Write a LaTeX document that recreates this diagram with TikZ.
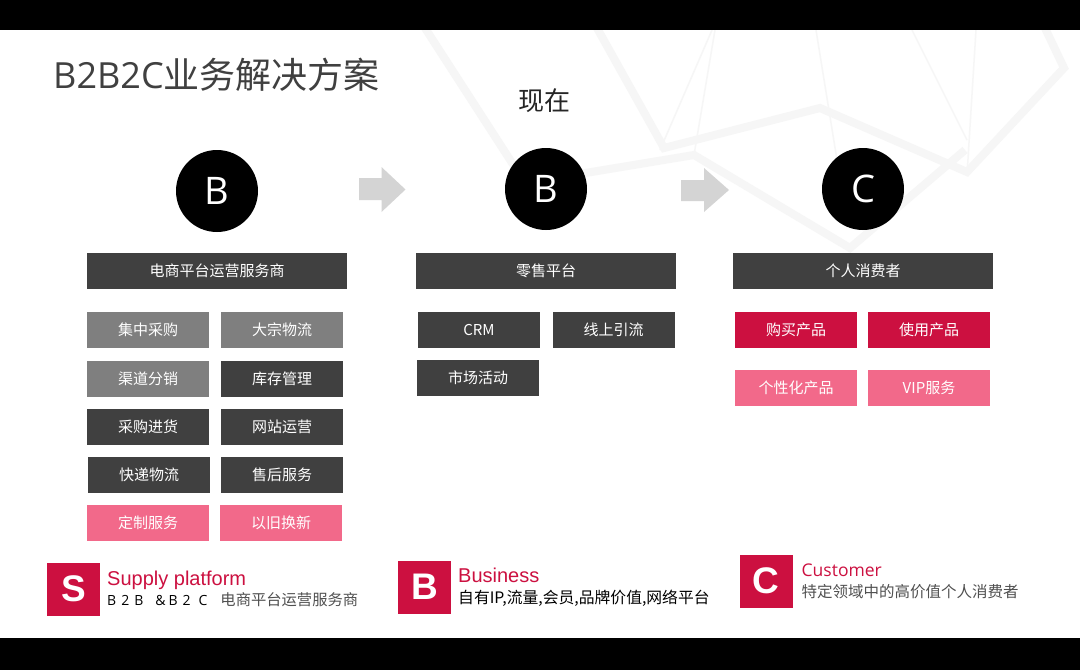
\documentclass[tikz,border=0pt]{standalone}
\usepackage{fontspec}
\setmainfont{Open Sans}
\newfontfamily\cjk{Noto Sans CJK SC}
\newfontfamily\arialf{Liberation Sans}
\newfontfamily\opensans{Open Sans}
\definecolor{darkbox}{HTML}{404040}
\definecolor{graybox}{HTML}{7F7F7F}
\definecolor{crimson}{HTML}{CC1040}
\definecolor{pinkbox}{HTML}{F2698A}
\definecolor{arrowgray}{HTML}{D4D4D4}
\definecolor{titlegray}{HTML}{404040}
\definecolor{subgray}{HTML}{505050}
\definecolor{bgl}{HTML}{F6F6F6}
\tikzset{
  bgline/.style={line width=8pt, draw=bgl, line join=miter},
  bgthin/.style={line width=1.5pt, draw=bgl},
  bar/.style={fill=darkbox, minimum width=260pt, minimum height=36pt, inner sep=0pt, text=white, font=\cjk\fontsize{15}{15}\selectfont},
  item/.style={minimum width=122pt, minimum height=36pt, inner sep=0pt, text=white, font=\cjk\fontsize{15}{15}\selectfont},
  darkitem/.style={item, fill=darkbox},
  grayitem/.style={item, fill=graybox},
  redItem/.style={item, fill=crimson},
  pinkitem/.style={item, fill=pinkbox},
  circ/.style={circle, fill=black, minimum size=82pt, inner sep=0pt, text=white, font=\opensans\fontsize{38}{38}\selectfont},
  sq/.style={fill=crimson, minimum size=53pt, inner sep=0pt, text=white, font=\arialf\bfseries\fontsize{37}{37}\selectfont},
  blockarrow/.style={fill=arrowgray}
}
\begin{document}
\begin{tikzpicture}[x=1pt,y=-1pt]
\useasboundingbox (0,0) rectangle (1080,670);
\fill[white] (0,0) rectangle (1080,670);
% faint background geometry
\draw[bgline] (425,28) -- (525,183) -- (694,155) -- (850,248) -- (965,150);
\draw[bgline] (597,28) -- (664,148) -- (820,108) -- (967,172) -- (1064,68) -- (1045,28);
\draw[bgthin] (715,30) -- (694,155);
\draw[bgthin] (816,30) -- (837,160);
\draw[bgthin] (912,30) -- (967,140);
\draw[bgthin] (976,30) -- (967,175);
\draw[bgthin] (712,30) -- (660,150);
% top and bottom bars
\fill[black] (0,0) rectangle (1080,30);
\fill[black] (0,638) rectangle (1080,670);
% title
\node[anchor=base west, inner sep=0pt, text=titlegray] (title) at (53,88)
  {{\opensans\fontsize{36}{36}\selectfont B2B2C}{\cjk\fontsize{36}{36}\selectfont 业务解决方案}};
\node[inner sep=0pt, text=black!85, font=\cjk\fontsize{26}{26}\selectfont] (now) at (544,101) {现在};
% circles
\node[circ] (c1) at (217,191) {B};
\node[circ] (c2) at (546,189) {B};
\node[circ] (c3) at (863,189) {C};
% block arrows
\fill[blockarrow] (359,178) -- (381.5,178) -- (381.5,167) -- (405.5,189.5) -- (381.5,212) -- (381.5,200) -- (359,200) -- cycle;
\fill[blockarrow] (681,180) -- (704,180) -- (704,168) -- (729,190) -- (704,212) -- (704,201) -- (681,201) -- cycle;
% header bars
\node[bar] (h1) at (217,271) {电商平台运营服务商};
\node[bar] (h2) at (546,271) {零售平台};
\node[bar] (h3) at (863,271) {个人消费者};
% left grid
\node[grayitem] (l11) at (148,330) {集中采购};
\node[grayitem] (l12) at (282,330) {大宗物流};
\node[grayitem] (l21) at (148,378.5) {渠道分销};
\node[darkitem] (l22) at (282,378.5) {库存管理};
\node[darkitem] (l31) at (148,426.5) {采购进货};
\node[darkitem] (l32) at (282,426.5) {网站运营};
\node[darkitem] (l41) at (149,475) {快递物流};
\node[darkitem] (l42) at (282,475) {售后服务};
\node[pinkitem] (l51) at (148,523) {定制服务};
\node[pinkitem] (l52) at (281,523) {以旧换新};
% middle
\node[darkitem] (m11) at (479,330) {CRM};
\node[darkitem] (m12) at (613.5,330) {线上引流};
\node[darkitem] (m21) at (478,378) {市场活动};
% right
\node[redItem] (r11) at (796,330) {购买产品};
\node[redItem] (r12) at (929,330) {使用产品};
\node[pinkitem] (r21) at (796,388) {个性化产品};
\node[pinkitem] (r22) at (929,388) {VIP服务};
% legend
\node[sq] (sS) at (73.5,589) {S};
\node[anchor=base west, inner sep=0pt, text=crimson, font=\arialf\fontsize{20}{20}\selectfont] (sT) at (107,585) {Supply platform};
\node[anchor=base west, inner sep=0pt] (sD) at (107,605)
  {{\opensans\fontsize{14}{14}\selectfont B\hspace{5pt}2\hspace{5pt}B\hspace{12pt}\&\hspace{3pt}B\hspace{5pt}2\hspace{8pt}C}\hspace{13pt}{\cjk\color{subgray}\fontsize{15.3}{15.3}\selectfont 电商平台运营服务商}};
\node[sq] (sB) at (424.5,587) {B};
\node[anchor=base west, inner sep=0pt, text=crimson, font=\arialf\fontsize{20}{20}\selectfont] (bT) at (458,582.5) {Business};
\node[anchor=base west, inner sep=0pt, text=black, font=\cjk\fontsize{15.8}{15.8}\selectfont] (bD) at (458,603) {自有IP,流量,会员,品牌价值,网络平台};
\node[sq] (sC) at (766,581) {C};
\node[anchor=base west, inner sep=0pt, text=crimson, font=\opensans\fontsize{17.5}{17.5}\selectfont] (cT) at (801.5,576) {Customer};
\node[anchor=base west, inner sep=0pt, text=subgray, font=\cjk\fontsize{15.5}{15.5}\selectfont] (cD) at (801.5,597) {特定领域中的高价值个人消费者};
\end{tikzpicture}
\end{document}
